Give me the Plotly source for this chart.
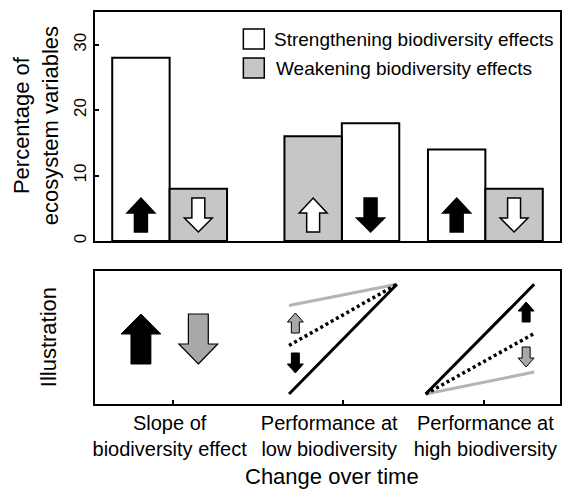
import plotly.graph_objects as go

# ---------------- data ----------------
categories = ["Slope of<br>biodiversity effect",
              "Performance at<br>low biodiversity",
              "Performance at<br>high biodiversity"]
cat_pos = [1.3, 4.3, 6.8]
strengthening = [28, 18, 14]
weakening = [8, 16, 8]
strength_side = [-0.5, 0.5, -0.5]   # side of the group where the strengthening bar sits
strength_dir = [1, -1, 1]           # arrow direction inside strengthening bars
weaken_dir = [-1, 1, -1]            # arrow direction inside weakening bars
y_ticks = [0, 10, 20, 30]

# illustration: conceptual performance lines (low -> high biodiversity)
illus_x = [[3.38, 5.26], [5.76, 7.65]]
illus_before = [[0.44, 0.90], [0.075, 0.53]]
illus_strong = [[0.075, 0.90], [0.075, 0.90]]
illus_weak = [[0.74, 0.90], [0.075, 0.24]]

# ---------------- layout constants ----------------
W, H = 563, 491
ML, MR, MT, MB = 95, 1, 12, 87
PW, PH = W - ML - MR, H - MT - MB
XR = [0, 8.1]
YR = [0, 35]
top_px, top_bot_px = 12, 241
bot_top_px, bot_bot_px = 271, 404
dom_top = [1 - (top_bot_px - MT) / PH, 1]
dom_bot = [0, (bot_bot_px - bot_top_px) / PH]
XS = PW / (XR[1] - XR[0])
YS1 = (top_bot_px - top_px) / (YR[1] - YR[0])
YS2 = (bot_bot_px - bot_top_px) / 1.0
label_shift = [0.0, -0.22, 0.0]     # small horizontal nudges of the category labels
tick_shift = [0.05, 0.02, -0.02]

FONT = "Liberation Sans, Arial, sans-serif"
GRAYBAR = "#c6c6c6"
GRAYLINE = "#b4b4b4"
GRAYARROW = "#a8a8a8"


def arrow_path(cx, ybot, h, hw, hh, sw, d, ys):
    if d > 0:
        pts = [(0, h), (hw / 2, h - hh), (sw / 2, h - hh), (sw / 2, 0),
               (-sw / 2, 0), (-sw / 2, h - hh), (-hw / 2, h - hh)]
    else:
        pts = [(0, 0), (hw / 2, hh), (sw / 2, hh), (sw / 2, h),
               (-sw / 2, h), (-sw / 2, hh), (-hw / 2, hh)]
    coords = [(cx + dx / XS, ybot + dy / ys) for dx, dy in pts]
    return "M " + " L ".join(f"{x:.4f},{y:.4f}" for x, y in coords) + " Z"


fig = go.Figure()

s_x = [p + s for p, s in zip(cat_pos, strength_side)]
w_x = [p - s for p, s in zip(cat_pos, strength_side)]

fig.add_trace(go.Bar(x=s_x, y=strengthening, width=1, name="Strengthening biodiversity effects",
                     marker=dict(color="white", line=dict(color="black", width=2)),
                     xaxis="x", yaxis="y", showlegend=False))
fig.add_trace(go.Bar(x=w_x, y=weakening, width=1, name="Weakening biodiversity effects",
                     marker=dict(color=GRAYBAR, line=dict(color="black", width=2)),
                     xaxis="x", yaxis="y", showlegend=False))

shapes = []
# arrows inside bars
for xs_, dirs, fill in ((s_x, strength_dir, "black"), (w_x, weaken_dir, "white")):
    for cx, d in zip(xs_, dirs):
        shapes.append(dict(type="path", xref="x", yref="y",
                           path=arrow_path(cx, 9 / YS1, 34, 28, 15 if d > 0 else 14, 13, d, YS1),
                           fillcolor=fill, line=dict(color="black", width=1.5)))

# illustration lines
for i in range(2):
    fig.add_trace(go.Scatter(x=illus_x[i], y=illus_weak[i], mode="lines",
                             line=dict(color=GRAYLINE, width=3), xaxis="x2", yaxis="y2",
                             showlegend=False))
    fig.add_trace(go.Scatter(x=illus_x[i], y=illus_strong[i], mode="lines",
                             line=dict(color="black", width=3), xaxis="x2", yaxis="y2",
                             showlegend=False))
    fig.add_trace(go.Scatter(x=illus_x[i], y=illus_before[i], mode="lines",
                             line=dict(color="black", width=3.5, dash="3px,3px"),
                             xaxis="x2", yaxis="y2", showlegend=False))

# big illustration arrows (slope of biodiversity effect)
shapes.append(dict(type="path", xref="x2", yref="y2",
                   path=arrow_path(s_x[0], 40 / YS2, 50, 40, 20, 20, 1, YS2),
                   fillcolor="black", line=dict(color="black", width=1)))
shapes.append(dict(type="path", xref="x2", yref="y2",
                   path=arrow_path(w_x[0], 40 / YS2, 50, 39, 20, 20, -1, YS2),
                   fillcolor=GRAYARROW, line=dict(color="black", width=1.2)))

# small arrows between lines
small = [
    (illus_x[0][0] + 0.11, (404 - 333) / YS2, 1, GRAYARROW),
    (illus_x[0][0] + 0.11, (404 - 373) / YS2, -1, "black"),
    (illus_x[1][1] - 0.14, (404 - 322) / YS2, 1, "black"),
    (illus_x[1][1] - 0.14, (404 - 367) / YS2, -1, GRAYARROW),
]
for cx, yb, d, fill in small:
    shapes.append(dict(type="path", xref="x2", yref="y2",
                       path=arrow_path(cx, yb, 20, 16, 9, 8, d, YS2),
                       fillcolor=fill, line=dict(color="black", width=1)))


def px_x(px):
    return (px - ML) / PW


def px_y(py):
    return (H - MB - py) / PH


# manual legend
shapes.append(dict(type="rect", xref="paper", yref="paper",
                   x0=px_x(244), x1=px_x(265), y0=px_y(49), y1=px_y(29),
                   fillcolor="white", line=dict(color="black", width=1.5)))
shapes.append(dict(type="rect", xref="paper", yref="paper",
                   x0=px_x(244), x1=px_x(265), y0=px_y(78), y1=px_y(58),
                   fillcolor=GRAYBAR, line=dict(color="black", width=1.5)))

annotations = [
    dict(text="Strengthening biodiversity effects", x=px_x(273), y=px_y(40),
         xref="paper", yref="paper", xanchor="left", yanchor="middle", showarrow=False,
         font=dict(size=19, color="black", family=FONT)),
    dict(text="Weakening biodiversity effects", x=px_x(275), y=px_y(68),
         xref="paper", yref="paper", xanchor="left", yanchor="middle", showarrow=False,
         font=dict(size=19, color="black", family=FONT)),
    dict(text="Percentage of<br>ecosystem variables", x=px_x(36), y=px_y(126),
         xref="paper", yref="paper", xanchor="center", yanchor="middle", showarrow=False,
         textangle=-90, font=dict(size=22, color="black", family=FONT)),
    dict(text="Illustration", x=px_x(48), y=px_y(337),
         xref="paper", yref="paper", xanchor="center", yanchor="middle", showarrow=False,
         textangle=-90, font=dict(size=22, color="black", family=FONT)),
    dict(text="Change over time", x=px_x(333), y=px_y(476),
         xref="paper", yref="paper", xanchor="center", yanchor="middle", showarrow=False,
         font=dict(size=22, color="black", family=FONT)),
]

axis_common = dict(showgrid=False, zeroline=False, showline=True, linecolor="black",
                   linewidth=2, mirror=True)

fig.update_layout(
    width=W, height=H,
    margin=dict(l=ML, r=MR, t=MT, b=MB),
    paper_bgcolor="white", plot_bgcolor="white",
    font=dict(family=FONT, color="black"),
    barmode="overlay",
    xaxis=dict(domain=[0, 1], range=XR, anchor="y", showticklabels=False, ticks="",
               **axis_common),
    yaxis=dict(domain=dom_top, range=YR, anchor="x", tickvals=y_ticks, ticks="inside",
               ticklen=4, tickwidth=1.5, tickcolor="black", tickangle=-90,
               tickfont=dict(size=17, family=FONT, color="black"), **axis_common),
    xaxis2=dict(domain=[0, 1], range=XR, anchor="y2",
                tickvals=[p + s for p, s in zip(cat_pos, label_shift)], ticktext=categories,
                ticks="", tickfont=dict(size=20, family=FONT, color="black"),
                **axis_common),
    xaxis3=dict(domain=[0, 1], range=XR, anchor="y2", overlaying="x2", side="bottom",
                tickvals=[p + s for p, s in zip(cat_pos, tick_shift)], showticklabels=False,
                ticks="inside", ticklen=4, tickwidth=1.5, tickcolor="black",
                showgrid=False, zeroline=False, showline=False),
    yaxis2=dict(domain=dom_bot, range=[0, 1], anchor="x2", showticklabels=False, ticks="",
                **axis_common),
    shapes=shapes,
    annotations=annotations,
)

# invisible trace to activate the tick-mark axis
fig.add_trace(go.Scatter(x=[cat_pos[0]], y=[0.5], mode="markers", marker=dict(opacity=0),
                         xaxis="x3", yaxis="y2", showlegend=False, hoverinfo="skip"))

fig.write_html("out.html", config={"displayModeBar": False},
               post_script="document.body.style.margin='0px';"
                           "document.body.style.overflow='hidden';")
